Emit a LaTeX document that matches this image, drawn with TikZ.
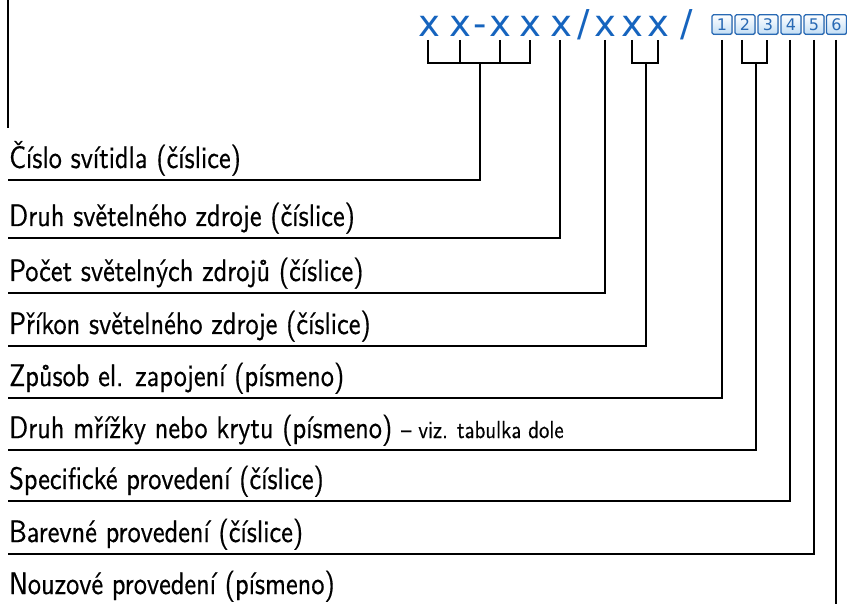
\documentclass[tikz,border=0pt]{standalone}
\usepackage{fontspec}
\newfontfamily\labelfont[FakeStretch=0.85,FakeBold=0.4]{lmsans10-regular.otf}
\newfontfamily\codefont{DejaVu Sans}
\usetikzlibrary{shadows}
\definecolor{codeblue}{RGB}{22,100,190}
\definecolor{boxblue}{RGB}{40,105,180}
\definecolor{boxfill}{RGB}{195,222,245}
\begin{document}
\begin{tikzpicture}[x=1pt,y=-1pt,
  code/.style={font=\codefont\fontsize{37}{37}\selectfont, text=codeblue, inner sep=0pt, anchor=base},
  numbox/.style={draw=boxblue, line width=1.1pt, rounded corners=1.5pt, top color=white, bottom color=boxfill,
    minimum width=20pt, minimum height=19.5pt, inner sep=0pt, text=boxblue,
    font=\codefont\fontsize{16}{16}\selectfont,
    drop shadow={shadow xshift=0.8pt, shadow yshift=-0.8pt, opacity=0.35}},
  lab/.style={font=\labelfont\fontsize{31}{31}\selectfont, anchor=base west, inner sep=0pt},
  wire/.style={line width=2pt, line join=miter, black}]
\useasboundingbox (0,0) rectangle (847,604);

% code characters
\node[code] (c1) at (429,37) {x};
\node[code] (c2) at (460,37) {x};
\node[code] (d1) at (480,37) {-};
\node[code] (c3) at (500,37) {x};
\node[code] (c4) at (530,37) {x};
\node[code] (c5) at (561,37) {x};
\node[code] (s1) at (584,37) {/};
\node[code] (c6) at (605,37) {x};
\node[code] (c7) at (632,37) {x};
\node[code] (c8) at (658,37) {x};
\node[code] (s2) at (687,37) {/};

% numbered boxes
\node[numbox] (b1) at (722,24.5) {1};
\node[numbox] (b2) at (745,24.5) {2};
\node[numbox] (b3) at (768,24.5) {3};
\node[numbox] (b4) at (791,24.5) {4};
\node[numbox] (b5) at (814,24.5) {5};
\node[numbox] (b6) at (836.5,24.5) {6};

% reference levels
\coordinate (tt) at (0,40);
\coordinate (bb) at (0,63);

% left marker line
\coordinate (lt) at (8,0);
\coordinate (lb) at (8,128);
\draw[wire] (lt) -- (lb);

% labels
\node[lab] (l1) at (9,168) {Číslo svítidla (číslice)};
\node[lab] (l2) at (9,226) {Druh světelného zdroje (číslice)};
\node[lab] (l3) at (9,281) {Počet světelných zdrojů (číslice)};
\node[lab] (l4) at (9,334) {Příkon světelného zdroje (číslice)};
\node[lab] (l5) at (9,386) {Způsob el. zapojení (písmeno)};
\node[lab] (l6) at (9,438) {Druh mřížky nebo krytu (písmeno) {\fontsize{24.5}{24.5}\selectfont – viz. tabulka dole}};
\node[lab] (l7) at (9,489) {Specifické provedení (číslice)};
\node[lab] (l8) at (9,542) {Barevné provedení (číslice)};
\node[lab] (l9) at (9,594) {Nouzové provedení (písmeno)};

% label underline start points
\coordinate (u1) at (8,180);
\coordinate (u2) at (8,238);
\coordinate (u3) at (8,293);
\coordinate (u4) at (8,346);
\coordinate (u5) at (8,398);
\coordinate (u6) at (8,450);
\coordinate (u7) at (8,501);
\coordinate (u8) at (8,554);
\coordinate (u9) at (836,604);

% bracket 1 (x x - x x)
\coordinate (k1) at (428,0);
\coordinate (k4) at (530,0);
\coordinate (j1) at (480,63);
\draw[wire] (k1 |- tt) -- (k1 |- bb) -- (k4 |- bb) -- (k4 |- tt);
\draw[wire] (c2 |- tt) -- (c2 |- bb);
\draw[wire] (c3 |- tt) -- (c3 |- bb);
\draw[wire] (j1) -- (j1 |- u1) -- (u1);

% single x
\coordinate (j2) at (560,40);
\draw[wire] (j2) -- (j2 |- u2) -- (u2);
\coordinate (j3) at (605,40);
\draw[wire] (j3) -- (j3 |- u3) -- (u3);

% bracket 2 (x x)
\coordinate (j4) at (646,63);
\draw[wire] (c7 |- tt) -- (c7 |- bb) -- (c8 |- bb) -- (c8 |- tt);
\draw[wire] (j4) -- (j4 |- u4) -- (u4);

% boxes
\coordinate (j5) at (722,40);
\draw[wire] (j5) -- (j5 |- u5) -- (u5);
\coordinate (k2) at (742,0);
\coordinate (k3) at (767,0);
\coordinate (j6) at (756,63);
\draw[wire] (k2 |- tt) -- (k2 |- bb) -- (k3 |- bb) -- (k3 |- tt);
\draw[wire] (j6) -- (j6 |- u6) -- (u6);
\coordinate (j7) at (790,40);
\draw[wire] (j7) -- (j7 |- u7) -- (u7);
\coordinate (j8) at (814,40);
\draw[wire] (j8) -- (j8 |- u8) -- (u8);
\coordinate (j9) at (836,40);
\draw[wire] (j9) -- (u9);
\end{tikzpicture}
\end{document}
